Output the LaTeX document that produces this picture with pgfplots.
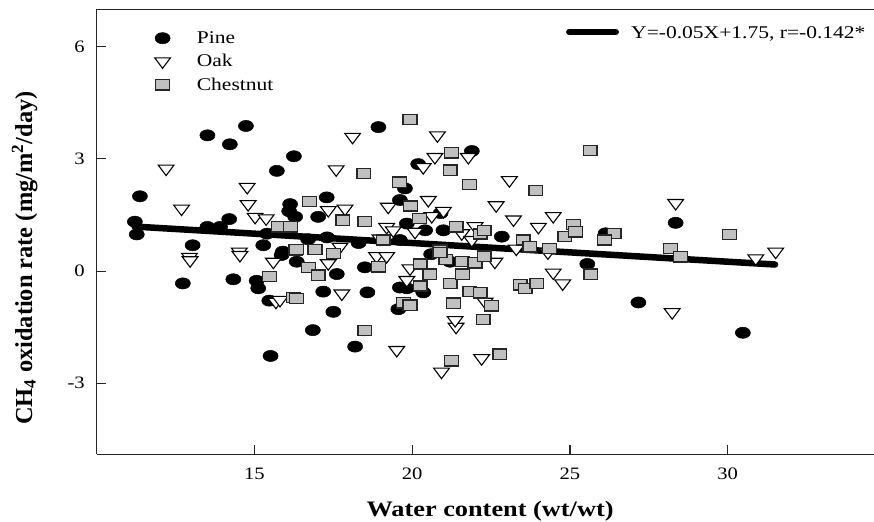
\documentclass[border=0pt]{standalone}
\usepackage{fontspec}
\setmainfont{Liberation Serif}
\usepackage{pgfplots}
\pgfplotsset{compat=1.18}
\definecolor{chestgray}{RGB}{192,192,192}
\newcommand\tickfont{\fontsize{17.5}{20}\selectfont}
\begin{document}
\begin{tikzpicture}
\useasboundingbox (0,0) rectangle (874bp,522bp);
\begin{axis}[
  at={(96.7bp,67.7bp)}, anchor=south west,
  scale only axis, width=788.75bp, height=445bp,
  xmin=10, xmax=35, ymin=-4.9, ymax=7,
  axis x line*=box, axis y line*=left,
  axis line style={line width=1.2bp, black!85},
  xtick={15,20,25,30}, ytick={-3,0,3,6},
  xtick pos=bottom, ytick pos=left,
  tick align=inside, major tick length=9bp,
  tick style={line width=1.1bp, black!85},
  /pgf/number format/assume math mode=true,
  xticklabel style={font=\tickfont, anchor=base, yshift=-25.7bp, xscale=1.18},
  yticklabel style={font=\tickfont, anchor=east, inner sep=0pt, xshift=-11.7bp, xscale=1.18},
  xlabel={Water content (wt/wt)},
  xlabel style={at={(axis description cs:0.4987,-0.1402)}, anchor=base,
    font=\fontsize{22.2}{24}\selectfont\bfseries, xscale=1.19},
  ylabel={CH\textsubscript{4} oxidation rate (mg/m\textsuperscript{2}/day)},
  ylabel style={at={(axis description cs:-0.082,0.441)}, anchor=base,
    font=\fontsize{24.5}{26}\selectfont\bfseries},
  legend style={at={(axis description cs:0.0733,0.955)}, anchor=north west,
    draw=none, fill=none, inner sep=0pt, row sep=5.5bp, column sep=24bp,
    font=\fontsize{18}{20}\selectfont, nodes={xscale=1.2}},
  legend cell align=left,
]
% fitted line Y = -0.05X + 1.75
\addplot[forget plot, line width=6.5bp, line cap=round, black]
  coordinates {(11.2,1.19) (31.5,0.175)};

% Pine
\addplot[only marks, mark=*, mark size=5.6bp,
  mark options={xscale=1.35, fill=black, draw=black, line width=0.5bp}]
  coordinates {
  (11.37,2.00) (11.21,1.32) (11.27,0.98) (13.04,0.69) (13.51,3.63)
  (14.22,3.39) (14.73,3.88) (13.51,1.18) (13.91,1.18) (14.20,1.39)
  (15.71,2.68) (16.25,3.07) (16.13,1.79) (15.28,0.69) (16.10,1.60)
  (15.90,0.52) (12.73,-0.33) (14.33,-0.22) (15.07,-0.26) (15.12,-0.46)
  (15.47,-0.79) (15.51,-2.27) (15.86,0.43) (16.34,0.25) (18.93,3.85)
  (21.89,3.21) (20.19,2.86) (17.29,1.97) (17.02,1.45) (16.29,1.45)
  (19.77,2.21) (19.61,1.90) (19.83,1.27) (20.41,1.09) (20.99,1.09)
  (22.84,0.92) (19.61,0.83) (17.61,-0.08) (18.50,0.10) (17.18,-0.55)
  (18.58,-0.57) (17.50,-1.09) (16.85,-1.58) (18.19,-2.02) (19.61,-0.44)
  (20.35,-0.57) (19.56,-1.02) (19.83,-0.46) (25.55,0.19) (27.17,-0.84)
  (30.48,-1.65) (28.35,1.29) (26.13,1.01) (20.60,0.45) (21.20,0.25)
  (20.90,1.55) (18.30,0.75) (17.30,0.90) (16.70,0.85) (15.40,1.00)
  };
\addlegendentry{Pine}

% Oak
\addplot[only marks, mark=triangle*, mark size=7bp,
  mark options={rotate=180, xscale=1.3, fill=white, draw=black, line width=1.1bp}]
  coordinates {
  (12.20,2.74) (12.69,1.67) (14.77,2.25) (14.80,1.79) (15.02,1.45)
  (15.37,1.41) (12.94,0.38) (14.52,0.52) (12.96,0.29) (14.54,0.43)
  (15.60,0.25) (15.68,-0.82) (18.11,3.59) (20.80,3.63) (20.72,3.05)
  (21.78,3.05) (20.35,2.78) (17.59,2.72) (23.08,2.43) (22.66,1.76)
  (23.21,1.38) (24.47,1.47) (24.00,1.18) (17.34,1.63) (17.87,1.67)
  (19.24,1.72) (20.51,1.90) (20.99,1.61) (20.62,1.47) (19.19,1.18)
  (21.99,1.20) (21.57,1.01) (20.09,1.05) (18.98,0.87) (19.40,1.09)
  (21.89,0.83) (17.71,0.65) (17.34,0.21) (18.87,0.40) (19.19,0.40)
  (19.83,-0.24) (19.93,0.07) (17.77,-0.60) (15.81,-0.77) (19.51,-2.11)
  (21.39,-1.49) (21.36,-1.31) (20.93,-2.69) (22.20,-2.33) (22.62,0.25)
  (22.31,-0.82) (24.47,-0.04) (24.77,-0.33) (28.35,1.82) (30.89,0.34)
  (31.52,0.52) (28.24,-1.10) (23.30,0.60) (24.30,0.50)
  };
\addlegendentry{Oak}

% Chestnut
\addplot[only marks, mark=square*, mark size=5.1bp,
  mark options={xscale=1.35, fill=chestgray, draw=black!85, line width=1.3bp}]
  coordinates {
  (15.76,1.18) (16.15,1.18) (16.29,0.56) (15.47,-0.15) (16.23,-0.71)
  (19.93,4.05) (21.25,3.16) (21.20,2.70) (21.81,2.32) (18.47,2.61)
  (19.59,2.38) (23.92,2.16) (16.74,1.86) (17.80,1.36) (18.50,1.32)
  (19.95,1.74) (20.23,1.41) (21.39,1.18) (22.15,0.99) (22.28,1.09)
  (23.52,0.83) (23.73,0.65) (24.35,0.61) (24.84,0.93) (25.11,1.25)
  (16.34,0.58) (16.92,0.58) (17.50,0.47) (19.08,0.83) (20.88,0.56)
  (16.71,0.10) (17.02,-0.11) (16.34,-0.73) (18.93,0.11) (18.50,-1.59)
  (20.25,0.19) (20.56,-0.08) (21.07,0.31) (20.25,-0.40) (21.20,-0.33)
  (21.60,-0.08) (21.60,0.25) (21.99,0.22) (22.28,0.40) (19.72,-0.85)
  (19.93,-0.91) (21.31,-0.86) (21.83,-0.55) (22.15,-0.58) (22.52,-0.93)
  (22.25,-1.29) (21.25,-2.40) (22.78,-2.22) (23.42,-0.37) (23.58,-0.46)
  (23.95,-0.33) (20.88,0.49) (25.64,3.23) (30.06,0.98) (26.40,1.01)
  (26.10,0.83) (28.19,0.61) (28.51,0.38) (25.18,1.05) (25.66,-0.08)
  };
\addlegendentry{Chestnut}

% key for the fitted line
\draw[line width=6.5bp, line cap=round, black]
  (axis description cs:0.5992,0.949) -- (axis description cs:0.658,0.949);
\node[anchor=base west, inner sep=0pt, xscale=1.2, font=\fontsize{18}{20}\selectfont]
  at (axis description cs:0.6774,0.9348) {Y=-0.05X+1.75, r=-0.142*};
\end{axis}
\end{tikzpicture}
\end{document}
